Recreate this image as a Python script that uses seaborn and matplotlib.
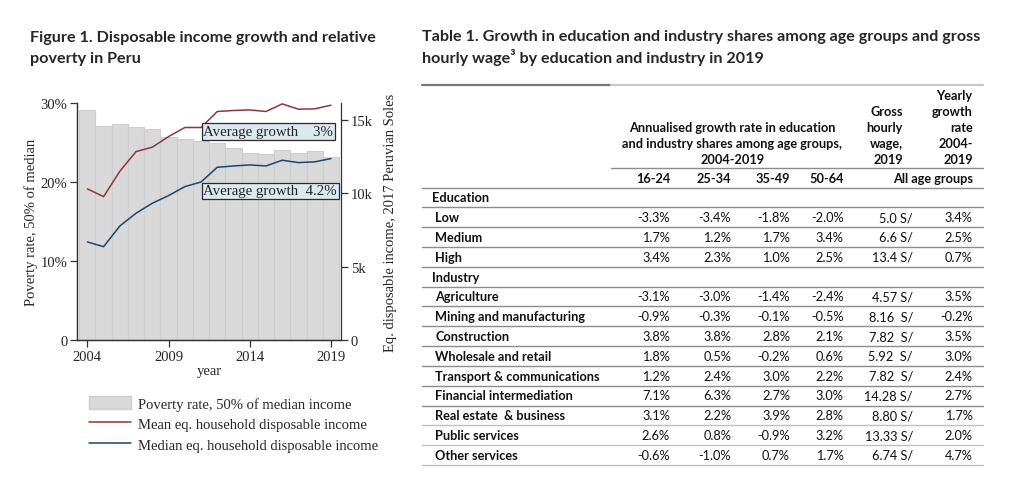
import numpy as np
import pandas as pd
import matplotlib
matplotlib.use("Agg")
import matplotlib.pyplot as plt
import seaborn as sns
from matplotlib.patches import Patch
from matplotlib.lines import Line2D

# ---- chart data ----
years = list(range(2004, 2020))
poverty = [29.1, 27.1, 27.3, 27.0, 26.7, 25.7, 25.4, 25.2, 25.0, 24.3,
           23.7, 23.6, 24.1, 23.7, 23.9, 23.2]
mean_inc = [10300, 9770, 11500, 12840, 13140, 13860, 14480, 14480, 15570, 15640,
            15680, 15570, 16090, 15730, 15750, 16000]
median_inc = [6680, 6360, 7770, 8640, 9320, 9840, 10450, 10770, 11770, 11860,
              11930, 11860, 12250, 12090, 12140, 12360]
growth_labels = ["Average growth    3%", "Average growth  4.2%"]

# ---- table data ----
edu_rows = ["Low", "Medium", "High"]
ind_rows = ["Agriculture", "Mining and manufacturing", "Construction",
            "Wholesale and retail", "Transport & communications",
            "Financial intermediation", "Real estate  & business",
            "Public services", "Other services"]
g_16_24 = [-3.3, 1.7, 3.4, -3.1, -0.9, 3.8, 1.8, 1.2, 7.1, 3.1, 2.6, -0.6]
g_25_34 = [-3.4, 1.2, 2.3, -3.0, -0.3, 3.8, 0.5, 2.4, 6.3, 2.2, 0.8, -1.0]
g_35_49 = [-1.8, 1.7, 1.0, -1.4, -0.1, 2.8, -0.2, 3.0, 2.7, 3.9, -0.9, 0.7]
g_50_64 = [-2.0, 3.4, 2.5, -2.4, -0.5, 2.1, 0.6, 2.2, 3.0, 2.8, 3.2, 1.7]
wage = ["5.0 S/", "6.6 S/", "13.4 S/", "4.57 S/", "8.16  S/", "7.82  S/",
        "5.92  S/", "7.82  S/", "14.28 S/", "8.80 S/", "13.33 S/", "6.74 S/"]
yearly = [3.4, 2.5, 0.7, 3.5, -0.2, 3.5, 3.0, 2.4, 2.7, 1.7, 2.0, 4.7]
age_heads = ["16-24", "25-34", "35-49", "50-64"]

W, H = 1009, 489
RED = "#90353b"
NAVY = "#1a476f"
SERIF = ["Liberation Serif", "DejaVu Serif"]
SANS = ["Lato", "DejaVu Sans"]

sns.set_style("ticks")
plt.rcParams["font.family"] = SERIF


def fx(x):
    return x / W


def fy(y):
    return 1 - y / H


fig = plt.figure(figsize=(W / 100, H / 100), dpi=100)

# ---------------- Figure 1 ----------------
ax = fig.add_axes([fx(77.3), fy(341), (341 - 77.3) / W, (341 - 104) / H])
df = pd.DataFrame({"year": years, "poverty": poverty,
                   "mean": mean_inc, "median": median_inc})
sns.barplot(data=df, x="year", y="poverty", native_scale=True, width=1,
            color="#d9d9d9", edgecolor="#cdcdcd", linewidth=0.8, ax=ax)
ax.set_xlim(2003.38, 2019.62)
ax.set_ylim(0, 30)
ax.set_xticks([2004, 2009, 2014, 2019])
ax.set_xticklabels(["2004", "2009", "2014", "2019"])
ax.set_yticks([0, 10, 20, 30])
ax.set_yticklabels(["0", "10%", "20%", "30%"])
ax.set_xlabel("year", fontsize=10.5, labelpad=1)
ax.set_ylabel("Poverty rate, 50% of median", fontsize=10.5, labelpad=2)

ax2 = ax.twinx()
sns.lineplot(data=df, x="year", y="mean", color=RED, lw=1.1, ax=ax2)
sns.lineplot(data=df, x="year", y="median", color=NAVY, lw=1.1, ax=ax2)
ax2.set_ylim(0, 16150)
ax2.set_yticks([0, 5000, 10000, 15000])
ax2.set_yticklabels(["0", "5k", "10k", "15k"])
ax2.set_ylabel("Eq. disposable income, 2017 Peruvian Soles", fontsize=10.5,
               labelpad=8)
ax2.set_xlabel("")

for a in (ax, ax2):
    a.spines["top"].set_visible(False)
    for s in a.spines.values():
        s.set_color("#333333")
        s.set_linewidth(0.9)
    a.tick_params(direction="out", length=5, width=0.9, color="#333333",
                  labelsize=10.5, pad=2)
ax.spines["right"].set_visible(False)

box = dict(boxstyle="square,pad=0.12", fc="#dce9ef", ec="#2b2b2b", lw=0.9)
ax2.text(2011.15, 14190, growth_labels[0], ha="left", va="center",
         fontsize=10.7, bbox=box)
ax2.text(2011.15, 10160, growth_labels[1], ha="left", va="center",
         fontsize=10.7, bbox=box)

handles = [Patch(fc="#d9d9d9", ec="#cdcdcd"),
           Line2D([], [], color=RED, lw=1.1),
           Line2D([], [], color=NAVY, lw=1.1)]
fig.legend(handles, ["Poverty rate, 50% of median income",
                     "Mean eq. household disposable income",
                     "Median eq. household disposable income"],
           loc="upper left", bbox_to_anchor=(fx(89), fy(397)),
           frameon=False, fontsize=10.5, handlelength=2.9, handleheight=1.0,
           handletextpad=0.45, labelspacing=0.42, borderpad=0, borderaxespad=0)

fig.text(fx(30), fy(37.7), "Figure 1. Disposable income growth and relative",
         family=SANS, fontweight="bold", fontsize=11.6, va="center")
fig.text(fx(30), fy(59), "poverty in Peru",
         family=SANS, fontweight="bold", fontsize=11.6, va="center")

# ---------------- Table 1 ----------------
fig.text(fx(421.7), fy(36.7),
         "Table 1. Growth in education and industry shares among age groups and gross",
         family=SANS, fontweight="bold", fontsize=11.6, va="center")
fig.text(fx(421.7), fy(57.7), "hourly wage\u00b3 by education and industry in 2019",
         family=SANS, fontweight="bold", fontsize=11.6, va="center")


def hline(x0, x1, y, color, lw=1.0):
    fig.add_artist(Line2D([fx(x0), fx(x1)], [fy(y), fy(y)], color=color,
                          lw=lw, transform=fig.transFigure))


def ttext(x, y, s, ha="left", bold=False):
    fig.text(fx(x), fy(y), s, family=SANS, fontsize=9.2,
             fontweight="bold" if bold else "normal", ha=ha, va="center",
             color="#111111")


col_r = [670, 731, 790, 843.5, 913, 972.7]
hline(421.7, 611, 85.7, "#777777", 1.6)
hline(611, 983, 85.7, "#c8c8c8", 1.6)

for i, s in enumerate(["Annualised growth rate in education",
                       "and industry shares among age groups,", "2004-2019"]):
    ttext(732.5, 127.7 + i * 16, s, ha="center", bold=True)
for i, s in enumerate(["Gross", "hourly", "wage,", "2019"]):
    ttext(903, 112.3 + i * 16, s, ha="right", bold=True)
for i, s in enumerate(["Yearly", "growth", "rate", "2004-", "2019"]):
    ttext(972.7, 96 + i * 16, s, ha="right", bold=True)
hline(611, 983, 169.3, "#8c8c8c")
for x, s in zip(col_r[:4], age_heads):
    ttext(x, 179, s, ha="right", bold=True)
ttext(972.7, 179, "All age groups", ha="right", bold=True)
hline(421.7, 983, 189.3, "#8c8c8c")

rows = (["Education"] + edu_rows + ["Industry"] + ind_rows)
heads = {"Education", "Industry"}
k = 0
for i, r in enumerate(rows):
    y = 198.3 + i * 19.82
    if r in heads:
        ttext(431.7, y, r, bold=True)
    else:
        ttext(435, y, r, bold=True)
        vals = [f"{g_16_24[k]:.1f}%", f"{g_25_34[k]:.1f}%",
                f"{g_35_49[k]:.1f}%", f"{g_50_64[k]:.1f}%",
                wage[k], f"{yearly[k]:.1f}%"]
        for x, v in zip(col_r, vals):
            ttext(x, y, v, ha="right")
        k += 1
    lc = "#c0c0c0" if i >= 11 else "#8c8c8c"
    hline(421.7, 983, y + 10, lc)

fig.savefig("out.png", dpi=100)
